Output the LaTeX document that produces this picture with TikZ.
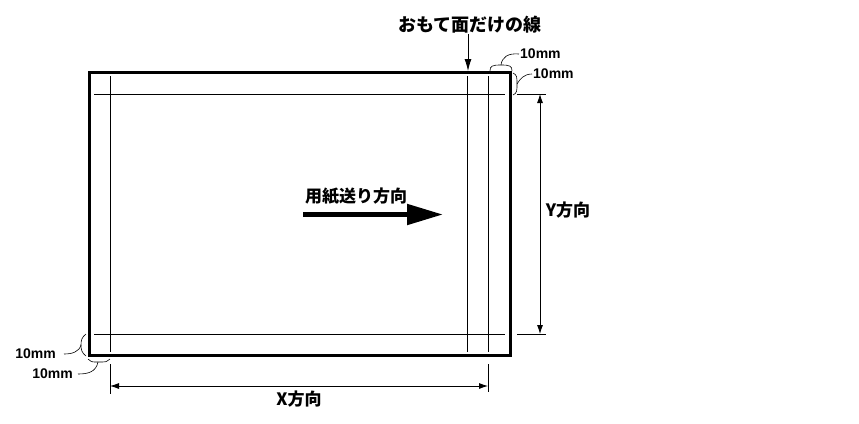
\documentclass[tikz,border=0pt]{standalone}
\usepackage{fontspec}
\setmainfont{Liberation Sans}
\newfontfamily\jpfont{Noto Sans CJK JP}
\usetikzlibrary{positioning,arrows.meta}

\begin{document}
\begin{tikzpicture}[x=1pt,y=-1pt,
    frame/.style={line width=3pt},
    guide/.style={line width=0.8pt},
    dimline/.style={line width=0.8pt,{Latex[length=9pt,width=6pt]}-{Latex[length=9pt,width=6pt]}},
    brace/.style={line width=0.6pt},
    mm/.style={font=\bfseries\fontsize{14}{14}\selectfont,inner sep=0pt},
    jp/.style={font=\jpfont\bfseries\fontsize{17}{17}\selectfont,inner sep=0pt}]

\useasboundingbox (0,0) rectangle (859,423);

\draw[frame] (89,72) rectangle (510,355);

\foreach \x in {110,467,488} {
    \draw[guide] (\x,76) -- (\x,352);
}
\foreach \y in {94,334} {
    \draw[guide] (94,\y) -- (505,\y);
}

% front side line
\node[jp,font=\jpfont\bfseries\fontsize{18}{18}\selectfont] (front) at (470,25) {おもて面だけの線};
\coordinate (frontend) at (468,71);
\draw[guide,-{Latex[length=12pt,width=7pt]}] (front.south -| frontend) -- (frontend);

% paper feed
\node[jp] (feed) at (356,196) {用紙送り方向};
\coordinate (feedstart) at (303,214.5);
\coordinate (feedend) at (443,214.5);
\draw[line width=5pt,-{Triangle[length=36pt,width=20pt]}] (feedstart) -- (feedend);

% Y direction
\coordinate (ytop) at (540,94);
\coordinate (ybot) at (540,334);
\draw[guide] (517,94) -- (546,94);
\draw[guide] (517,334) -- (546,334);
\draw[dimline] (ytop) -- (ybot);
\node[jp] (ydir) at (568,210) {Y方向};

% X direction
\coordinate (xleft) at (110,386);
\coordinate (xright) at (488,386);
\draw[guide] (110,364) -- (110,394);
\draw[guide] (488,364) -- (488,392);
\draw[dimline] (xleft) -- (xright);
\node[jp] (xdir) at (299,399) {X方向};

% 10mm margins
\node[mm,anchor=west] (mmtop) at (520,54) {10mm};
\coordinate (bracetop) at (501,65);
\draw[brace] (490,71) .. controls (490,66) and (492,65) .. (bracetop) .. controls (510,65) and (512,66) .. (512,71);
\draw[brace] (bracetop) .. controls (502,57) and (508,53) .. ([xshift=-1pt]mmtop.west);

\node[mm,anchor=west] (mmright) at (533,74) {10mm};
\coordinate (braceright) at (517,84);
\draw[brace] (513,73) .. controls (517,75) and (517,77) .. (braceright) .. controls (517,91) and (517,93) .. (513,95);
\draw[brace] (braceright) .. controls (520,79) and (524,74) .. ([xshift=-1pt]mmright.west);

\node[mm,anchor=east] (mmleft) at (56,354) {10mm};
\coordinate (braceleft) at (81,345);
\draw[brace] (86,334) .. controls (82,337) and (81,340) .. (braceleft) .. controls (81,350) and (82,353) .. (86,356);
\draw[brace] (braceleft) .. controls (79,352) and (72,354) .. ([xshift=8pt]mmleft.east);

\node[mm,anchor=east] (mmbottom) at (73,374) {10mm};
\coordinate (bracebottom) at (98,362);
\draw[brace] (88,359) .. controls (90,362) and (92,362) .. (bracebottom) .. controls (106,362) and (108,362) .. (110,359);
\draw[brace] (bracebottom) .. controls (96,372) and (88,374) .. ([xshift=5pt]mmbottom.east);

\end{tikzpicture}
\end{document}
